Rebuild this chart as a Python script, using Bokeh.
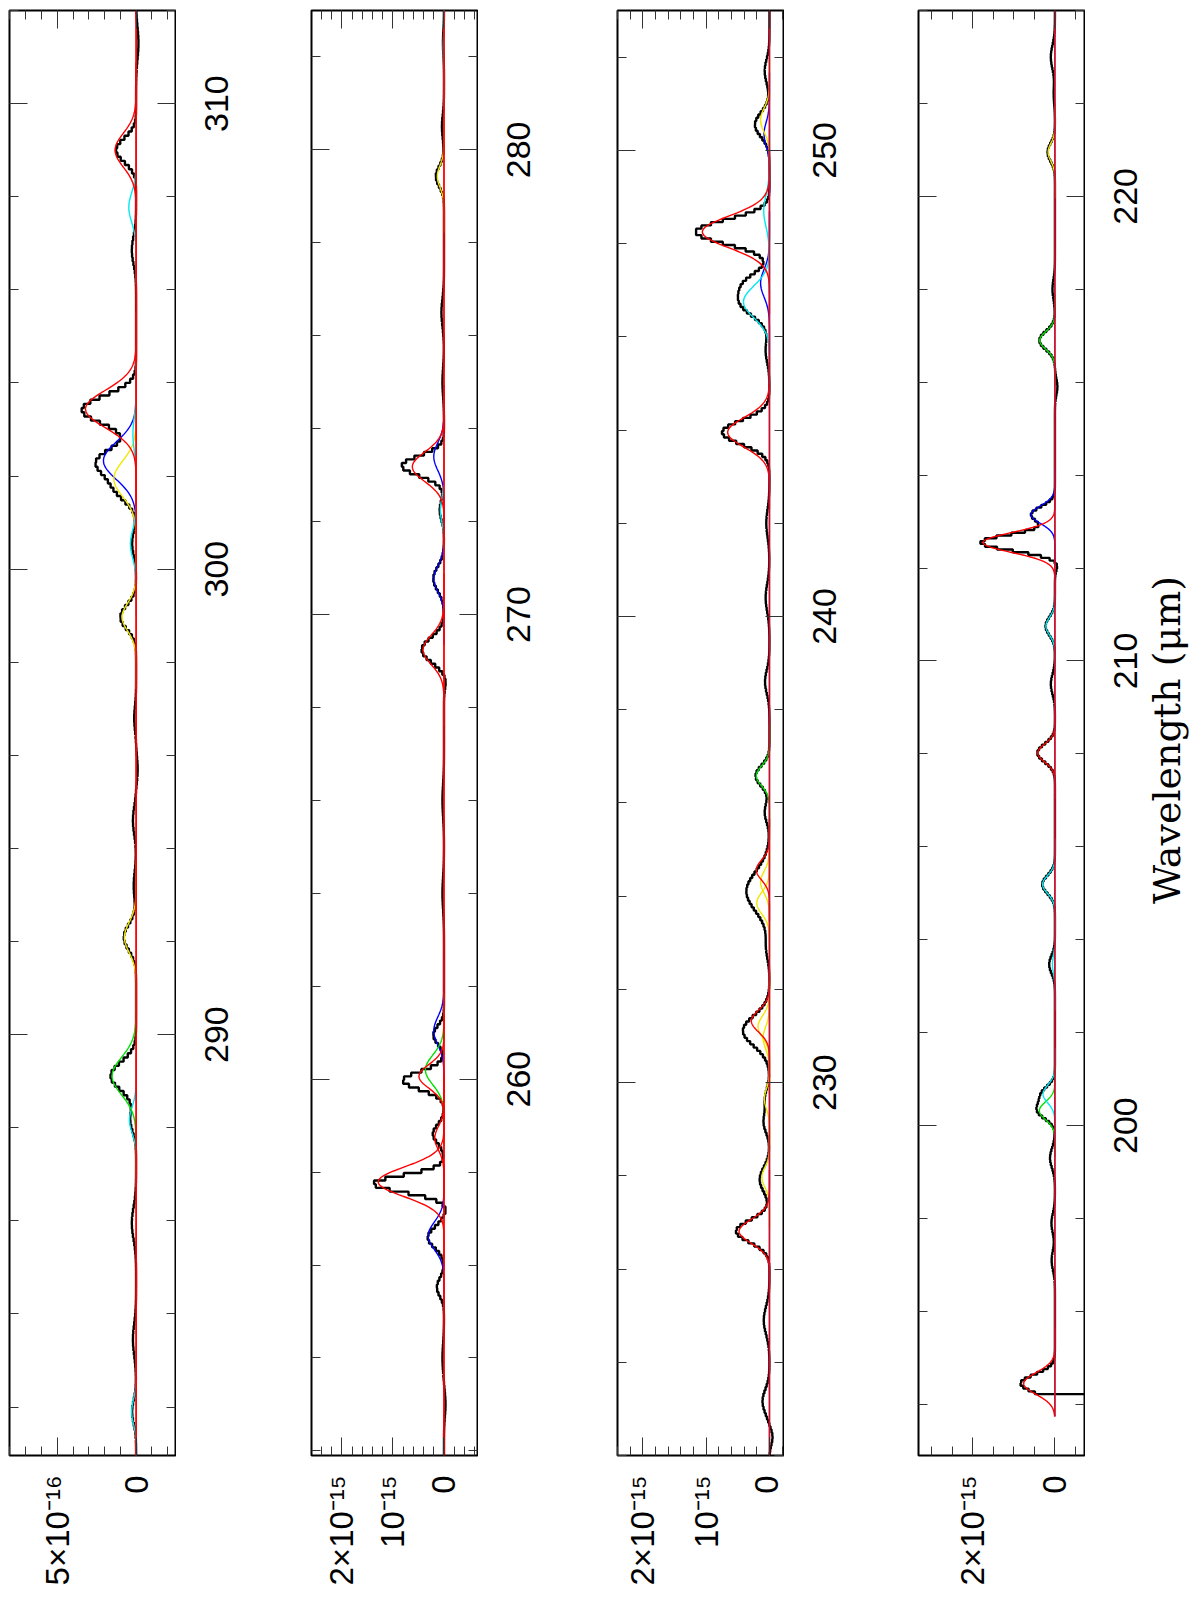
import math
import numpy as np
from bokeh.plotting import figure
from bokeh.layouts import row
from bokeh.models import Range1d, SingleIntervalTicker, LinearAxis, CustomJSTickFormatter
from bokeh.core.properties import value
from bokeh.embed import file_html
from bokeh.resources import INLINE

# Flux values are in units of 1e-16; wavelength in micron.

# ---------------- Panel 1 (281-312 um) ----------------
p1_wl_range = [280.96, 312.0]
p1_wl_ticks = [290, 300, 310]
p1_flux_range = [8.03, -2.50]
p1_tick_labels = {0: "0", 5: "5×10⁻¹⁶"}
p1_comp_kind = ["red", "red", "blue", "yellow", "yellow", "yellow", "cyan", "cyan", "cyan", "cyan", "cyan", "green"]
p1_comp_wl = [309.0, 303.44, 302.33, 301.94, 298.97, 292.09, 307.77, 302.9, 300.54, 288.17, 281.9, 289.11]
p1_comp_peak = [1.33, 3.21, 2.07, 1.41, 0.89, 0.74, 0.46, 0.2, 0.36, 0.42, 0.28, 1.52]
p1_comp_fwhm = [0.86, 0.95, 0.95, 0.9, 0.7, 0.75, 0.75, 0.8, 0.7, 0.65, 0.6, 0.95]
p1_data_wl = [311.3, 309.0, 306.85, 303.42, 302.3, 301.7, 300.55, 298.97, 296.8, 295.7, 294.6, 293.2,
              292.09, 289.11, 288.17, 285.95, 283.45, 281.9]
p1_data_peak = [-0.15, 1.27, 0.27, 3.45, 2.5, 1.1, 0.25, 1.0, 0.12, -0.1, 0.2, 0.15,
                0.78, 1.62, 0.36, 0.27, 0.2, 0.25]
p1_data_fwhm = [0.8, 0.6, 0.7, 0.7, 0.7, 0.6, 0.6, 0.6, 0.6, 0.6, 0.7, 0.7,
                0.65, 0.7, 0.6, 0.8, 0.8, 0.6]

# ---------------- Panel 2 (252-283 um) ----------------
p2_wl_range = [251.9, 283.0]
p2_wl_ticks = [260, 270, 280]
p2_flux_range = [25.97, -6.57]
p2_tick_labels = {0: "0", 10: "10⁻¹⁵", 20: "2×10⁻¹⁵"}
p2_comp_kind = ["red", "red", "red", "red", "red", "blue", "blue", "blue", "blue", "cyan", "cyan", "yellow", "green"]
p2_comp_wl = [273.18, 269.24, 260.06, 258.73, 257.79, 273.4, 270.77, 261.04, 256.63, 272.25, 282.2, 279.43, 260.2]
p2_comp_peak = [6.2, 4.1, 4.9, 1.8, 12.9, 2.0, 2.0, 2.0, 3.1, 0.7, 0.15, 1.3, 3.64]
p2_comp_fwhm = [0.75, 0.75, 0.6, 0.6, 0.75, 0.7, 0.65, 0.7, 0.7, 0.6, 0.6, 0.55, 0.75]
p2_data_wl = [282.3, 280.5, 279.43, 276.5, 275.0, 273.2, 272.25, 270.77, 269.24, 268.6, 266.0, 264.0,
              260.95, 259.97, 258.82, 257.75, 257.2, 256.59, 255.52, 254.0, 253.0]
p2_data_peak = [0.2, 0.4, 1.6, 0.5, 0.3, 8.3, 0.85, 2.1, 4.4, -0.45, 0.3, 0.3,
                2.1, 8.1, 2.2, 13.9, -0.5, 3.2, 1.4, 0.3, -0.3]
p2_data_fwhm = [0.6, 0.6, 0.5, 0.7, 0.7, 0.5, 0.5, 0.6, 0.6, 0.4, 0.8, 0.8,
                0.45, 0.45, 0.45, 0.42, 0.25, 0.5, 0.45, 0.7, 0.6]

# ---------------- Panel 3 (222-253 um) ----------------
p3_wl_range = [222.0, 253.0]
p3_wl_ticks = [230, 240, 250]
p3_flux_range = [24.01, -2.22]
p3_tick_labels = {0: "0", 10: "10⁻¹⁵", 20: "2×10⁻¹⁵"}
p3_comp_kind = ["red", "red", "red", "red", "red", "blue", "blue", "yellow", "yellow", "yellow", "yellow",
                "yellow", "yellow", "yellow", "cyan", "cyan", "green"]
p3_comp_wl = [248.25, 243.95, 234.56, 231.32, 226.81, 250.35, 247.15, 250.65, 234.3, 233.85, 231.2,
              230.96, 229.65, 227.97, 248.7, 246.75, 236.58]
p3_comp_peak = [10.6, 6.6, 2.08, 2.86, 4.8, 0.85, 1.4, 1.4, 1.4, 2.0, 1.8, 1.0, 0.8, 1.2, 0.9, 4.1, 2.08]
p3_comp_fwhm = [0.8, 0.75, 0.5, 0.55, 0.6, 0.6, 0.7, 0.6, 0.55, 0.55, 0.55, 0.55, 0.5, 0.5, 0.8, 0.8, 0.5]
p3_data_wl = [251.7, 250.55, 248.25, 247.2, 246.75, 245.7, 243.95, 242.0, 240.4, 238.6, 236.58, 235.8,
              234.1, 232.9, 231.11, 229.65, 229.14, 227.92, 226.81, 224.9, 223.16, 222.4]
p3_data_peak = [0.75, 2.3, 11.7, 2.5, 4.6, 0.6, 7.5, 0.5, 0.6, 0.7, 2.2, 0.75,
                3.65, 0.5, 4.2, 0.7, 0.9, 1.55, 5.3, 0.9, 1.1, -0.5]
p3_data_fwhm = [0.6, 0.6, 0.6, 0.5, 0.7, 0.6, 0.6, 0.7, 0.7, 0.6, 0.5, 0.5,
                1.0, 0.6, 0.75, 0.5, 0.5, 0.6, 0.55, 0.7, 0.6, 0.4]

# ---------------- Panel 4 (193-224 um) ----------------
p4_wl_range = [192.9, 224.0]
p4_wl_ticks = [200, 210, 220]
p4_flux_range = [33.18, -7.19]
p4_tick_labels = {0: "0", 20: "2×10⁻¹⁵"}
p4_comp_kind = ["red", "red", "red", "blue", "yellow", "green", "green", "cyan", "cyan", "cyan", "cyan"]
p4_comp_wl = [212.55, 208.02, 194.45, 213.15, 220.95, 216.9, 200.32, 210.75, 205.19, 203.47, 200.68]
p4_comp_peak = [17.5, 4.2, 7.6, 5.8, 1.65, 3.7, 3.8, 2.2, 3.0, 0.6, 2.9]
p4_comp_fwhm = [0.5, 0.45, 0.55, 0.45, 0.45, 0.45, 0.45, 0.45, 0.45, 0.45, 0.45]
p4_data_wl = [223.0, 222.2, 220.95, 218.0, 216.9, 215.9, 213.15, 212.55, 212.1, 210.75, 209.5, 208.02,
              205.19, 203.47, 200.68, 200.32, 199.3, 197.9, 197.1, 194.45]
p4_data_peak = [1.0, 0.3, 1.8, 0.6, 3.8, -0.6, 5.8, 18.1, -0.8, 2.3, 1.0, 4.3,
                3.1, 1.4, 3.1, 4.1, 1.2, 0.85, 0.8, 8.4]
p4_data_fwhm = [0.6, 0.5, 0.45, 0.5, 0.45, 0.4, 0.4, 0.4, 0.3, 0.45, 0.5, 0.45,
                0.45, 0.45, 0.4, 0.4, 0.5, 0.5, 0.5, 0.45]
p4_data_start = 193.74
p4_cut_wl = 194.24        # below this the spectrum drops off scale
p4_cut_flux = -20.0

x_title = "Wavelength (μm)"
x_title_center = 208.3    # wavelength at which the title is centred

wl_major = 10
wl_minor_n = 5

COLORS = {"red": "#ff0000", "blue": "#0000ff", "yellow": "#f2e600", "cyan": "#00e8f0", "green": "#00e000"}
SANS = "Liberation Sans"
FRAME_W = 166
FRAME_H = 1445
TOP = 10
FIG_H = 1616
BOTTOM = FIG_H - TOP - FRAME_H


def gauss(x, c, a, fwhm):
    s = fwhm / 2.3548
    return a * np.exp(-0.5 * ((x - c) / s) ** 2)


def make_panel(wl_range, flux_range, tick_iv, n_minor, tick_labels,
               comp_kind, comp_wl, comp_peak, comp_fwhm,
               data_wl, data_peak, data_fwhm, bin_w,
               base_color, data_start=None, cut=None):
    left = 9
    p = figure(width=left + FRAME_W + 1, height=FIG_H,
               x_range=Range1d(flux_range[0], flux_range[1]),
               y_range=Range1d(wl_range[0], wl_range[1]),
               output_backend="svg", toolbar_location=None,
               x_axis_location=None, y_axis_location=None,
               min_border_left=left, min_border_right=1,
               min_border_top=TOP, min_border_bottom=BOTTOM)
    p.grid.visible = False
    p.outline_line_color = "black"
    p.outline_line_width = 2
    p.background_fill_color = "white"
    p.border_fill_color = "white"

    def axis(ticker, labels):
        ax = LinearAxis(ticker=ticker,
                        major_tick_in=18, major_tick_out=0, minor_tick_in=9, minor_tick_out=0,
                        major_tick_line_color="#333333", minor_tick_line_color="#333333",
                        axis_line_color=None)
        if labels is not None:
            ax.major_label_overrides = labels
            ax.major_label_orientation = math.pi / 2
            ax.major_label_standoff = 20
            ax.major_label_text_font = SANS
            ax.major_label_text_font_size = "33px"
            ax.major_label_text_color = "black"
        else:
            ax.formatter = CustomJSTickFormatter(code="return ''")
            ax.major_label_text_font_size = "0px"
            ax.major_label_standoff = 0
        return ax

    flux_ticker = SingleIntervalTicker(interval=tick_iv, num_minor_ticks=n_minor)
    wl_ticker = SingleIntervalTicker(interval=wl_major, num_minor_ticks=wl_minor_n)
    p.add_layout(axis(flux_ticker, tick_labels), "below")
    p.add_layout(axis(flux_ticker, None), "above")
    p.add_layout(axis(wl_ticker, None), "left")
    p.add_layout(axis(wl_ticker, None), "right")

    # measured spectrum as a histogram (steps along wavelength)
    lo = data_start if data_start is not None else wl_range[0]
    edges = np.arange(lo, wl_range[1] + bin_w, bin_w)
    centers = 0.5 * (edges[:-1] + edges[1:])
    vals = np.zeros_like(centers)
    for c, a, f in zip(data_wl, data_peak, data_fwhm):
        vals += gauss(centers, c, a, f)
    if cut is not None:
        vals[centers < cut[0]] = cut[1]
    xs = np.repeat(vals, 2)
    ys = np.column_stack([edges[:-1], edges[1:]]).ravel()
    p.line(xs, ys, line_color="black", line_width=2.4)

    # fitted line components (only over the wavelength range covered by data)
    order = [k for k in range(len(comp_kind)) if comp_kind[k] != "red"] + \
            [k for k in range(len(comp_kind)) if comp_kind[k] == "red"]
    for k in order:
        c, a, f = comp_wl[k], comp_peak[k], comp_fwhm[k]
        yy = np.linspace(max(c - 2.2 * f, lo), c + 2.2 * f, 160)
        p.line(gauss(yy, c, a, f), yy, line_color=COLORS[comp_kind[k]], line_width=1.4)

    # zero baseline of the fit
    p.line([0, 0], [lo, wl_range[1]], line_color=base_color, line_width=1.8)
    return p


def make_label_strip(panel, strip_w, wl_ticks, title=None, title_center=None):
    """Strip to the right of a panel, sharing its wavelength scale, that carries
    the rotated wavelength tick labels (and the axis title)."""
    s = figure(width=strip_w, height=FIG_H,
               x_range=Range1d(0, strip_w), y_range=panel.y_range,
               output_backend="svg", toolbar_location=None,
               x_axis_location=None, y_axis_location=None,
               min_border_left=0, min_border_right=0,
               min_border_top=TOP, min_border_bottom=BOTTOM)
    s.grid.visible = False
    s.outline_line_color = None
    s.background_fill_color = "white"
    s.border_fill_color = "white"
    s.text(x=[40] * len(wl_ticks), y=wl_ticks, text=[str(v) for v in wl_ticks],
           angle=math.pi / 2, text_align="center", text_baseline="middle",
           text_font=value(SANS), text_font_size="34px", text_color="black")
    if title:
        s.text(x=[81], y=[title_center], text=[title],
               angle=math.pi / 2, text_align="center", text_baseline="middle",
               text_font=value("DejaVu Serif"), text_font_size="38px", text_color="black")
    return s


f1 = make_panel(p1_wl_range, p1_flux_range, 5, 5, p1_tick_labels,
                p1_comp_kind, p1_comp_wl, p1_comp_peak, p1_comp_fwhm,
                p1_data_wl, p1_data_peak, p1_data_fwhm, 0.09, "#ff0000")
f2 = make_panel(p2_wl_range, p2_flux_range, 10, 5, p2_tick_labels,
                p2_comp_kind, p2_comp_wl, p2_comp_peak, p2_comp_fwhm,
                p2_data_wl, p2_data_peak, p2_data_fwhm, 0.08, "#ff0000")
f3 = make_panel(p3_wl_range, p3_flux_range, 10, 5, p3_tick_labels,
                p3_comp_kind, p3_comp_wl, p3_comp_peak, p3_comp_fwhm,
                p3_data_wl, p3_data_peak, p3_data_fwhm, 0.07, "#c8102e")
f4 = make_panel(p4_wl_range, p4_flux_range, 20, 4, p4_tick_labels,
                p4_comp_kind, p4_comp_wl, p4_comp_peak, p4_comp_fwhm,
                p4_data_wl, p4_data_peak, p4_data_fwhm, 0.06, "#c8102e",
                data_start=p4_data_start, cut=(p4_cut_wl, p4_cut_flux))

s1 = make_label_strip(f1, 126, p1_wl_ticks)
s2 = make_label_strip(f2, 130, p2_wl_ticks)
s3 = make_label_strip(f3, 125, p3_wl_ticks)
s4 = make_label_strip(f4, 110, p4_wl_ticks, title=x_title, title_center=x_title_center)

layout = row(f1, s1, f2, s2, f3, s3, f4, s4, spacing=0)
open("out.html", "w").write(file_html(layout, INLINE))
